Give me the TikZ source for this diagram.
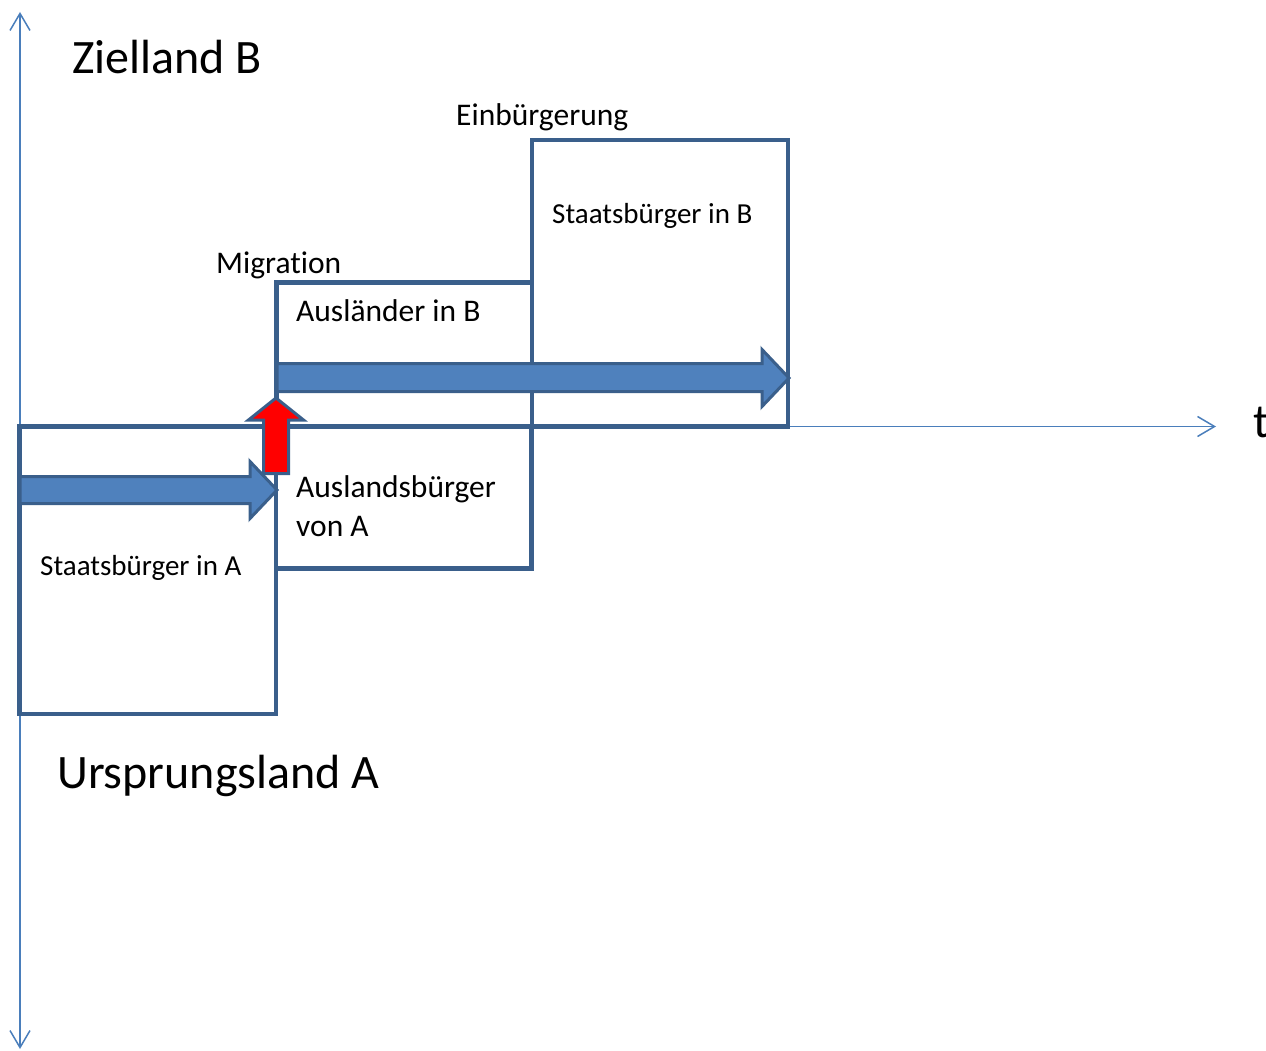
\documentclass[tikz,border=0pt]{standalone}
\usepackage{fontspec}
\setmainfont{Carlito}[Ligatures={NoCommon}]
\usetikzlibrary{arrows.meta}
\definecolor{axisblue}{HTML}{4A7EBB}
\definecolor{boxblue}{HTML}{3A5F8B}
\definecolor{arrowfill}{HTML}{4F81BD}
\tikzset{
  axis/.style={draw=axisblue, line width=1.5pt, -{Straight Barb[length=17pt,width=20pt,line width=1.5pt]}},
  boxframe/.style={draw=boxblue, line width=4.5pt, fill=none},
  blockarrow/.style={draw=boxblue, line width=3pt, fill=arrowfill, line join=miter},
  redarrow/.style={draw=boxblue, line width=3pt, fill=red, line join=miter},
  lbl/.style={anchor=base west, inner sep=0pt, font=\fontsize{31.5}{39}\selectfont},
  sblbl/.style={anchor=base west, inner sep=0pt, font=\fontsize{29}{35}\selectfont},
  biglbl/.style={anchor=base west, inner sep=0pt, font=\fontsize{48}{56}\selectfont},
}
\begin{document}
\begin{tikzpicture}[x=1pt,y=-1pt]
\useasboundingbox (0,0) rectangle (1266,1051);
% axes
\coordinate (origin) at (20,426.5);
\coordinate (ytop) at (20,12);
\coordinate (ybot) at (20,1049);
\coordinate (xend) at (1216,426.5);
\draw[axis] (origin) -- (ytop);
\draw[axis] (origin) -- (ybot);
\draw[axis] (origin) -- (xend);
% boxes
\draw[boxframe] (19.5,426.5) rectangle (276,714);
\draw[boxframe] (276,426.5) rectangle (531.5,568.5);
\draw[boxframe] (276.5,282.5) rectangle (532,426.5);
\draw[boxframe] (532,140) rectangle (788,426.5);
% blue block arrows
\draw[blockarrow] (20,476.5) -- (250,476.5) -- (250,461.5) -- (277,490) -- (250,518.5) -- (250,503.5) -- (20,503.5) -- cycle;
\draw[blockarrow] (277,363.5) -- (762,363.5) -- (762,349.5) -- (789,378) -- (762,406.5) -- (762,391.5) -- (277,391.5) -- cycle;
% red arrow
\draw[redarrow] (263.5,473.5) -- (263.5,420) -- (248.5,420) -- (276,398) -- (303.5,420) -- (288.5,420) -- (288.5,473.5) -- cycle;
% labels
\node[biglbl] (zb) at (72,74) {Zielland B};
\node[biglbl] (ua) at (57,788) {Ursprungsland A};
\node[biglbl] (t) at (1253,437) {t};
\node[lbl] (einb) at (456,126) {Einbürgerung};
\node[sblbl] (sbb) at (552,224) {Staatsbürger in B};
\node[lbl] (mig) at (216,273) {Migration};
\node[lbl] (aib) at (296,321) {Ausländer in B};
\node[lbl] (ava1) at (296,497) {Auslandsbürger};
\node[lbl] (ava2) at (296,536) {von A};
\node[sblbl] (sba) at (40,575) {Staatsbürger in A};
\end{tikzpicture}
\end{document}
